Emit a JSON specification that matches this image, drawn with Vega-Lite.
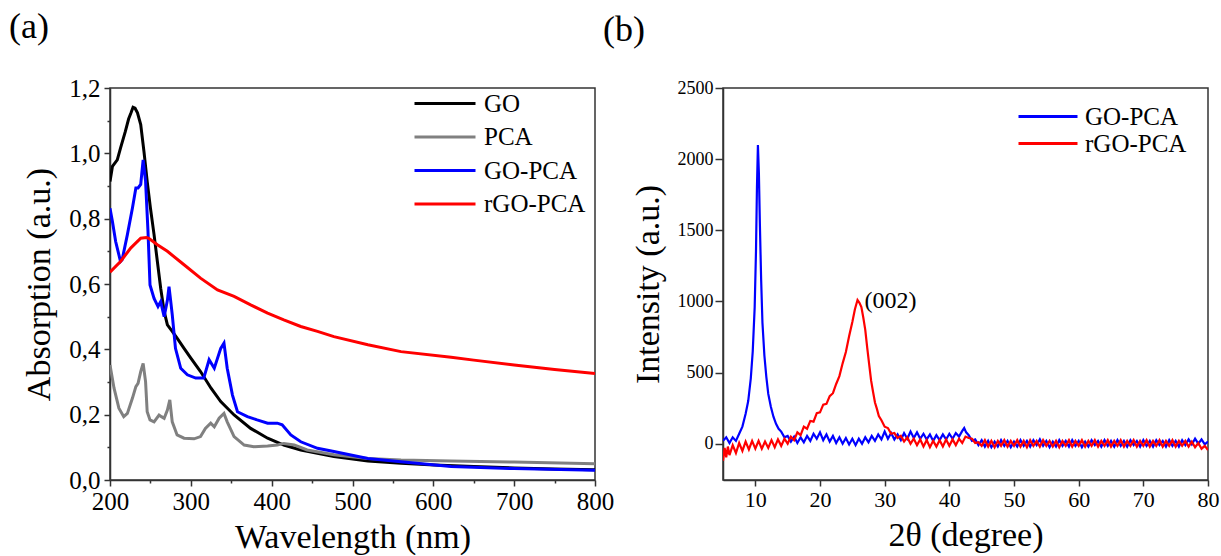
{
  "$schema": "https://vega.github.io/schema/vega-lite/v6.json",
  "padding": {"left": 8, "top": 8, "right": 0, "bottom": 0},
  "background": "white",
  "bounds": "flush",
  "spacing": 128,
  "resolve": {"scale": {"color": "independent"}, "legend": {"color": "independent"}},
  "config": {
    "font": "Liberation Serif, serif",
    "view": {"stroke": "#333", "strokeWidth": 1.5},
    "axis": {"grid": false, "domainColor": "#333", "domainWidth": 1.5, "tickColor": "#333", "tickWidth": 1.5, "labelColor": "black", "titleColor": "black", "labelFont": "Liberation Serif, serif", "titleFont": "Liberation Serif, serif", "titleFontWeight": "normal", "labelFlush": false, "labelOverlap": false, "labelBound": false},
    "legend": {"labelFont": "Liberation Serif", "labelColor": "black", "padding": 0, "symbolType": "stroke"}
  },
  "datasets": {
    "uv": [
      {"wl": 200, "abs": 0.914, "s": "GO"}, {"wl": 203, "abs": 0.96, "s": "GO"}, {"wl": 209, "abs": 0.98, "s": "GO"}, {"wl": 213, "abs": 1.016, "s": "GO"}, {"wl": 219, "abs": 1.067, "s": "GO"}, {"wl": 223, "abs": 1.105, "s": "GO"}, {"wl": 226, "abs": 1.124, "s": "GO"}, {"wl": 228.5, "abs": 1.141, "s": "GO"}, {"wl": 231, "abs": 1.138, "s": "GO"}, {"wl": 234, "abs": 1.124, "s": "GO"}, {"wl": 238, "abs": 1.088, "s": "GO"}, {"wl": 242, "abs": 1.006, "s": "GO"}, {"wl": 246, "abs": 0.914, "s": "GO"}, {"wl": 250, "abs": 0.833, "s": "GO"}, {"wl": 254.5, "abs": 0.751, "s": "GO"}, {"wl": 258.6, "abs": 0.669, "s": "GO"}, {"wl": 262.7, "abs": 0.587, "s": "GO"}, {"wl": 267, "abs": 0.516, "s": "GO"}, {"wl": 271, "abs": 0.475, "s": "GO"}, {"wl": 277, "abs": 0.455, "s": "GO"}, {"wl": 283, "abs": 0.434, "s": "GO"}, {"wl": 291.6, "abs": 0.403, "s": "GO"}, {"wl": 300, "abs": 0.373, "s": "GO"}, {"wl": 312, "abs": 0.332, "s": "GO"}, {"wl": 325, "abs": 0.281, "s": "GO"}, {"wl": 337, "abs": 0.24, "s": "GO"}, {"wl": 353.5, "abs": 0.199, "s": "GO"}, {"wl": 374, "abs": 0.158, "s": "GO"}, {"wl": 395, "abs": 0.128, "s": "GO"}, {"wl": 415, "abs": 0.107, "s": "GO"}, {"wl": 436, "abs": 0.092, "s": "GO"}, {"wl": 477, "abs": 0.072, "s": "GO"}, {"wl": 519, "abs": 0.058, "s": "GO"}, {"wl": 560, "abs": 0.051, "s": "GO"}, {"wl": 601, "abs": 0.046, "s": "GO"}, {"wl": 650, "abs": 0.041, "s": "GO"}, {"wl": 700, "abs": 0.037, "s": "GO"}, {"wl": 750, "abs": 0.034, "s": "GO"}, {"wl": 800, "abs": 0.031, "s": "GO"},
      {"wl": 200, "abs": 0.352, "s": "PCA"}, {"wl": 205, "abs": 0.281, "s": "PCA"}, {"wl": 211, "abs": 0.22, "s": "PCA"}, {"wl": 217, "abs": 0.194, "s": "PCA"}, {"wl": 221.5, "abs": 0.204, "s": "PCA"}, {"wl": 227.7, "abs": 0.25, "s": "PCA"}, {"wl": 232, "abs": 0.286, "s": "PCA"}, {"wl": 234.7, "abs": 0.296, "s": "PCA"}, {"wl": 238, "abs": 0.332, "s": "PCA"}, {"wl": 241, "abs": 0.357, "s": "PCA"}, {"wl": 244, "abs": 0.301, "s": "PCA"}, {"wl": 246, "abs": 0.209, "s": "PCA"}, {"wl": 249.5, "abs": 0.184, "s": "PCA"}, {"wl": 254.5, "abs": 0.178, "s": "PCA"}, {"wl": 260.7, "abs": 0.199, "s": "PCA"}, {"wl": 263.6, "abs": 0.194, "s": "PCA"}, {"wl": 267, "abs": 0.189, "s": "PCA"}, {"wl": 271, "abs": 0.214, "s": "PCA"}, {"wl": 274, "abs": 0.245, "s": "PCA"}, {"wl": 277, "abs": 0.178, "s": "PCA"}, {"wl": 283, "abs": 0.138, "s": "PCA"}, {"wl": 291.6, "abs": 0.128, "s": "PCA"}, {"wl": 304, "abs": 0.126, "s": "PCA"}, {"wl": 312, "abs": 0.133, "s": "PCA"}, {"wl": 318, "abs": 0.158, "s": "PCA"}, {"wl": 324.6, "abs": 0.174, "s": "PCA"}, {"wl": 329, "abs": 0.163, "s": "PCA"}, {"wl": 335, "abs": 0.189, "s": "PCA"}, {"wl": 341, "abs": 0.204, "s": "PCA"}, {"wl": 345, "abs": 0.178, "s": "PCA"}, {"wl": 353.5, "abs": 0.133, "s": "PCA"}, {"wl": 366, "abs": 0.107, "s": "PCA"}, {"wl": 378, "abs": 0.102, "s": "PCA"}, {"wl": 395, "abs": 0.104, "s": "PCA"}, {"wl": 407, "abs": 0.107, "s": "PCA"}, {"wl": 415, "abs": 0.112, "s": "PCA"}, {"wl": 428, "abs": 0.107, "s": "PCA"}, {"wl": 444, "abs": 0.092, "s": "PCA"}, {"wl": 477, "abs": 0.077, "s": "PCA"}, {"wl": 519, "abs": 0.066, "s": "PCA"}, {"wl": 560, "abs": 0.061, "s": "PCA"}, {"wl": 622, "abs": 0.058, "s": "PCA"}, {"wl": 700, "abs": 0.055, "s": "PCA"}, {"wl": 800, "abs": 0.05, "s": "PCA"},
      {"wl": 200, "abs": 0.832, "s": "GO-PCA"}, {"wl": 203, "abs": 0.791, "s": "GO-PCA"}, {"wl": 207, "abs": 0.73, "s": "GO-PCA"}, {"wl": 213, "abs": 0.669, "s": "GO-PCA"}, {"wl": 215, "abs": 0.674, "s": "GO-PCA"}, {"wl": 221.5, "abs": 0.751, "s": "GO-PCA"}, {"wl": 227.7, "abs": 0.832, "s": "GO-PCA"}, {"wl": 232, "abs": 0.894, "s": "GO-PCA"}, {"wl": 234.7, "abs": 0.894, "s": "GO-PCA"}, {"wl": 238, "abs": 0.905, "s": "GO-PCA"}, {"wl": 241, "abs": 0.98, "s": "GO-PCA"}, {"wl": 244, "abs": 0.915, "s": "GO-PCA"}, {"wl": 247, "abs": 0.761, "s": "GO-PCA"}, {"wl": 249.5, "abs": 0.597, "s": "GO-PCA"}, {"wl": 254.5, "abs": 0.556, "s": "GO-PCA"}, {"wl": 259.4, "abs": 0.531, "s": "GO-PCA"}, {"wl": 262.7, "abs": 0.546, "s": "GO-PCA"}, {"wl": 267, "abs": 0.5, "s": "GO-PCA"}, {"wl": 271, "abs": 0.55, "s": "GO-PCA"}, {"wl": 273, "abs": 0.592, "s": "GO-PCA"}, {"wl": 275, "abs": 0.55, "s": "GO-PCA"}, {"wl": 277, "abs": 0.506, "s": "GO-PCA"}, {"wl": 281, "abs": 0.403, "s": "GO-PCA"}, {"wl": 287.5, "abs": 0.342, "s": "GO-PCA"}, {"wl": 295.7, "abs": 0.322, "s": "GO-PCA"}, {"wl": 306, "abs": 0.312, "s": "GO-PCA"}, {"wl": 316, "abs": 0.312, "s": "GO-PCA"}, {"wl": 322.6, "abs": 0.368, "s": "GO-PCA"}, {"wl": 329, "abs": 0.342, "s": "GO-PCA"}, {"wl": 337, "abs": 0.403, "s": "GO-PCA"}, {"wl": 341, "abs": 0.419, "s": "GO-PCA"}, {"wl": 345, "abs": 0.342, "s": "GO-PCA"}, {"wl": 351.5, "abs": 0.26, "s": "GO-PCA"}, {"wl": 357.7, "abs": 0.209, "s": "GO-PCA"}, {"wl": 370, "abs": 0.194, "s": "GO-PCA"}, {"wl": 382, "abs": 0.184, "s": "GO-PCA"}, {"wl": 395, "abs": 0.174, "s": "GO-PCA"}, {"wl": 407, "abs": 0.174, "s": "GO-PCA"}, {"wl": 413, "abs": 0.169, "s": "GO-PCA"}, {"wl": 423.7, "abs": 0.138, "s": "GO-PCA"}, {"wl": 436, "abs": 0.117, "s": "GO-PCA"}, {"wl": 456.7, "abs": 0.097, "s": "GO-PCA"}, {"wl": 477, "abs": 0.087, "s": "GO-PCA"}, {"wl": 519, "abs": 0.066, "s": "GO-PCA"}, {"wl": 560, "abs": 0.056, "s": "GO-PCA"}, {"wl": 622, "abs": 0.041, "s": "GO-PCA"}, {"wl": 700, "abs": 0.035, "s": "GO-PCA"}, {"wl": 800, "abs": 0.03, "s": "GO-PCA"},
      {"wl": 200, "abs": 0.636, "s": "rGO-PCA"}, {"wl": 213, "abs": 0.669, "s": "rGO-PCA"}, {"wl": 225.6, "abs": 0.71, "s": "rGO-PCA"}, {"wl": 238, "abs": 0.74, "s": "rGO-PCA"}, {"wl": 245, "abs": 0.742, "s": "rGO-PCA"}, {"wl": 248, "abs": 0.74, "s": "rGO-PCA"}, {"wl": 258.6, "abs": 0.72, "s": "rGO-PCA"}, {"wl": 271, "abs": 0.7, "s": "rGO-PCA"}, {"wl": 291.6, "abs": 0.659, "s": "rGO-PCA"}, {"wl": 312, "abs": 0.618, "s": "rGO-PCA"}, {"wl": 333, "abs": 0.582, "s": "rGO-PCA"}, {"wl": 353.5, "abs": 0.562, "s": "rGO-PCA"}, {"wl": 374, "abs": 0.536, "s": "rGO-PCA"}, {"wl": 395, "abs": 0.511, "s": "rGO-PCA"}, {"wl": 415, "abs": 0.49, "s": "rGO-PCA"}, {"wl": 436, "abs": 0.47, "s": "rGO-PCA"}, {"wl": 456.7, "abs": 0.455, "s": "rGO-PCA"}, {"wl": 477, "abs": 0.439, "s": "rGO-PCA"}, {"wl": 519, "abs": 0.414, "s": "rGO-PCA"}, {"wl": 560, "abs": 0.393, "s": "rGO-PCA"}, {"wl": 622, "abs": 0.376, "s": "rGO-PCA"}, {"wl": 650, "abs": 0.367, "s": "rGO-PCA"}, {"wl": 700, "abs": 0.352, "s": "rGO-PCA"}, {"wl": 750, "abs": 0.338, "s": "rGO-PCA"}, {"wl": 800, "abs": 0.326, "s": "rGO-PCA"}
    ],
    "xrd": [
      {"t": 5, "i": 20, "s": "GO-PCA"}, {"t": 5.5, "i": 45, "s": "GO-PCA"}, {"t": 6, "i": 5, "s": "GO-PCA"}, {"t": 6.5, "i": 45, "s": "GO-PCA"}, {"t": 7, "i": 20, "s": "GO-PCA"}, {"t": 7.5, "i": 70, "s": "GO-PCA"}, {"t": 8, "i": 120, "s": "GO-PCA"}, {"t": 8.5, "i": 210, "s": "GO-PCA"}, {"t": 8.9, "i": 300, "s": "GO-PCA"}, {"t": 9.3, "i": 460, "s": "GO-PCA"}, {"t": 9.6, "i": 650, "s": "GO-PCA"}, {"t": 9.9, "i": 960, "s": "GO-PCA"}, {"t": 10.1, "i": 1350, "s": "GO-PCA"}, {"t": 10.25, "i": 1800, "s": "GO-PCA"}, {"t": 10.4, "i": 2100, "s": "GO-PCA"}, {"t": 10.55, "i": 1900, "s": "GO-PCA"}, {"t": 10.7, "i": 1550, "s": "GO-PCA"}, {"t": 10.9, "i": 1150, "s": "GO-PCA"}, {"t": 11.1, "i": 850, "s": "GO-PCA"}, {"t": 11.4, "i": 620, "s": "GO-PCA"}, {"t": 11.7, "i": 470, "s": "GO-PCA"}, {"t": 12, "i": 350, "s": "GO-PCA"}, {"t": 12.4, "i": 260, "s": "GO-PCA"}, {"t": 12.8, "i": 190, "s": "GO-PCA"}, {"t": 13.2, "i": 140, "s": "GO-PCA"}, {"t": 13.6, "i": 105, "s": "GO-PCA"}, {"t": 14, "i": 85, "s": "GO-PCA"}, {"t": 14.5, "i": 45, "s": "GO-PCA"}, {"t": 15, "i": 55, "s": "GO-PCA"}, {"t": 15.5, "i": 15, "s": "GO-PCA"}, {"t": 16, "i": 50, "s": "GO-PCA"}, {"t": 16.5, "i": 5, "s": "GO-PCA"}, {"t": 17, "i": 45, "s": "GO-PCA"}, {"t": 17.5, "i": 10, "s": "GO-PCA"}, {"t": 18, "i": 55, "s": "GO-PCA"}, {"t": 18.5, "i": 20, "s": "GO-PCA"}, {"t": 19, "i": 70, "s": "GO-PCA"}, {"t": 19.5, "i": 35, "s": "GO-PCA"}, {"t": 20, "i": 80, "s": "GO-PCA"}, {"t": 20.5, "i": 25, "s": "GO-PCA"}, {"t": 21, "i": 65, "s": "GO-PCA"}, {"t": 21.5, "i": 15, "s": "GO-PCA"}, {"t": 22, "i": 55, "s": "GO-PCA"}, {"t": 22.5, "i": 5, "s": "GO-PCA"}, {"t": 23, "i": 45, "s": "GO-PCA"}, {"t": 23.5, "i": 0, "s": "GO-PCA"}, {"t": 24, "i": 40, "s": "GO-PCA"}, {"t": 24.5, "i": -5, "s": "GO-PCA"}, {"t": 25, "i": 35, "s": "GO-PCA"}, {"t": 25.5, "i": -10, "s": "GO-PCA"}, {"t": 26, "i": 35, "s": "GO-PCA"}, {"t": 26.5, "i": 0, "s": "GO-PCA"}, {"t": 27, "i": 45, "s": "GO-PCA"}, {"t": 27.5, "i": 10, "s": "GO-PCA"}, {"t": 28, "i": 55, "s": "GO-PCA"}, {"t": 28.5, "i": 20, "s": "GO-PCA"}, {"t": 29, "i": 65, "s": "GO-PCA"}, {"t": 29.5, "i": 30, "s": "GO-PCA"}, {"t": 30, "i": 85, "s": "GO-PCA"}, {"t": 30.5, "i": 35, "s": "GO-PCA"}, {"t": 31, "i": 75, "s": "GO-PCA"}, {"t": 31.5, "i": 30, "s": "GO-PCA"}, {"t": 32, "i": 65, "s": "GO-PCA"}, {"t": 32.5, "i": 25, "s": "GO-PCA"}, {"t": 33, "i": 75, "s": "GO-PCA"}, {"t": 33.5, "i": 35, "s": "GO-PCA"}, {"t": 34, "i": 85, "s": "GO-PCA"}, {"t": 34.5, "i": 40, "s": "GO-PCA"}, {"t": 35, "i": 80, "s": "GO-PCA"}, {"t": 35.5, "i": 35, "s": "GO-PCA"}, {"t": 36, "i": 70, "s": "GO-PCA"}, {"t": 36.5, "i": 30, "s": "GO-PCA"}, {"t": 37, "i": 65, "s": "GO-PCA"}, {"t": 37.5, "i": 20, "s": "GO-PCA"}, {"t": 38, "i": 60, "s": "GO-PCA"}, {"t": 38.5, "i": 25, "s": "GO-PCA"}, {"t": 39, "i": 65, "s": "GO-PCA"}, {"t": 39.5, "i": 30, "s": "GO-PCA"}, {"t": 40, "i": 70, "s": "GO-PCA"}, {"t": 40.5, "i": 35, "s": "GO-PCA"}, {"t": 41, "i": 75, "s": "GO-PCA"}, {"t": 41.5, "i": 50, "s": "GO-PCA"}, {"t": 42, "i": 90, "s": "GO-PCA"}, {"t": 42.3, "i": 110, "s": "GO-PCA"}, {"t": 42.6, "i": 80, "s": "GO-PCA"}, {"t": 43, "i": 60, "s": "GO-PCA"}, {"t": 43.5, "i": 20, "s": "GO-PCA"}, {"t": 44, "i": 30, "s": "GO-PCA"}, {"t": 44.5, "i": -10, "s": "GO-PCA"}, {"t": 45, "i": 25, "s": "GO-PCA"}, {"t": 45.5, "i": -20, "s": "GO-PCA"}, {"t": 46, "i": 20, "s": "GO-PCA"}, {"t": 46.5, "i": -25, "s": "GO-PCA"}, {"t": 47, "i": 15, "s": "GO-PCA"}, {"t": 47.5, "i": -20, "s": "GO-PCA"}, {"t": 48, "i": 25, "s": "GO-PCA"}, {"t": 48.5, "i": -15, "s": "GO-PCA"}, {"t": 49, "i": 20, "s": "GO-PCA"}, {"t": 49.5, "i": -25, "s": "GO-PCA"}, {"t": 50, "i": 15, "s": "GO-PCA"}, {"t": 50.5, "i": -20, "s": "GO-PCA"}, {"t": 51, "i": 25, "s": "GO-PCA"}, {"t": 51.5, "i": -15, "s": "GO-PCA"}, {"t": 52, "i": 20, "s": "GO-PCA"}, {"t": 52.5, "i": -20, "s": "GO-PCA"}, {"t": 53, "i": 25, "s": "GO-PCA"}, {"t": 53.5, "i": -10, "s": "GO-PCA"}, {"t": 54, "i": 30, "s": "GO-PCA"}, {"t": 54.5, "i": -15, "s": "GO-PCA"}, {"t": 55, "i": 20, "s": "GO-PCA"}, {"t": 55.5, "i": -25, "s": "GO-PCA"}, {"t": 56, "i": 15, "s": "GO-PCA"}, {"t": 56.5, "i": -20, "s": "GO-PCA"}, {"t": 57, "i": 25, "s": "GO-PCA"}, {"t": 57.5, "i": -15, "s": "GO-PCA"}, {"t": 58, "i": 20, "s": "GO-PCA"}, {"t": 58.5, "i": -20, "s": "GO-PCA"}, {"t": 59, "i": 25, "s": "GO-PCA"}, {"t": 59.5, "i": -15, "s": "GO-PCA"}, {"t": 60, "i": 20, "s": "GO-PCA"}, {"t": 60.5, "i": -25, "s": "GO-PCA"}, {"t": 61, "i": 15, "s": "GO-PCA"}, {"t": 61.5, "i": -20, "s": "GO-PCA"}, {"t": 62, "i": 25, "s": "GO-PCA"}, {"t": 62.5, "i": -10, "s": "GO-PCA"}, {"t": 63, "i": 20, "s": "GO-PCA"}, {"t": 63.5, "i": -20, "s": "GO-PCA"}, {"t": 64, "i": 25, "s": "GO-PCA"}, {"t": 64.5, "i": -15, "s": "GO-PCA"}, {"t": 65, "i": 20, "s": "GO-PCA"}, {"t": 65.5, "i": -20, "s": "GO-PCA"}, {"t": 66, "i": 25, "s": "GO-PCA"}, {"t": 66.5, "i": -15, "s": "GO-PCA"}, {"t": 67, "i": 20, "s": "GO-PCA"}, {"t": 67.5, "i": -20, "s": "GO-PCA"}, {"t": 68, "i": 25, "s": "GO-PCA"}, {"t": 68.5, "i": -10, "s": "GO-PCA"}, {"t": 69, "i": 20, "s": "GO-PCA"}, {"t": 69.5, "i": -20, "s": "GO-PCA"}, {"t": 70, "i": 25, "s": "GO-PCA"}, {"t": 70.5, "i": -15, "s": "GO-PCA"}, {"t": 71, "i": 20, "s": "GO-PCA"}, {"t": 71.5, "i": -20, "s": "GO-PCA"}, {"t": 72, "i": 25, "s": "GO-PCA"}, {"t": 72.5, "i": -10, "s": "GO-PCA"}, {"t": 73, "i": 20, "s": "GO-PCA"}, {"t": 73.5, "i": -20, "s": "GO-PCA"}, {"t": 74, "i": 25, "s": "GO-PCA"}, {"t": 74.5, "i": -15, "s": "GO-PCA"}, {"t": 75, "i": 20, "s": "GO-PCA"}, {"t": 75.5, "i": -20, "s": "GO-PCA"}, {"t": 76, "i": 25, "s": "GO-PCA"}, {"t": 76.5, "i": -10, "s": "GO-PCA"}, {"t": 77, "i": 30, "s": "GO-PCA"}, {"t": 77.5, "i": -5, "s": "GO-PCA"}, {"t": 78, "i": 35, "s": "GO-PCA"}, {"t": 78.5, "i": 0, "s": "GO-PCA"}, {"t": 79, "i": 30, "s": "GO-PCA"}, {"t": 79.5, "i": -5, "s": "GO-PCA"}, {"t": 80, "i": 15, "s": "GO-PCA"},
      {"t": 5, "i": -120, "s": "rGO-PCA"}, {"t": 5.25, "i": -30, "s": "rGO-PCA"}, {"t": 5.5, "i": -95, "s": "rGO-PCA"}, {"t": 5.75, "i": -20, "s": "rGO-PCA"}, {"t": 6, "i": -80, "s": "rGO-PCA"}, {"t": 6.5, "i": -10, "s": "rGO-PCA"}, {"t": 7, "i": -65, "s": "rGO-PCA"}, {"t": 7.5, "i": 5, "s": "rGO-PCA"}, {"t": 8, "i": -50, "s": "rGO-PCA"}, {"t": 8.5, "i": 15, "s": "rGO-PCA"}, {"t": 9, "i": -40, "s": "rGO-PCA"}, {"t": 9.5, "i": 20, "s": "rGO-PCA"}, {"t": 10, "i": -35, "s": "rGO-PCA"}, {"t": 10.5, "i": 20, "s": "rGO-PCA"}, {"t": 11, "i": -35, "s": "rGO-PCA"}, {"t": 11.5, "i": 15, "s": "rGO-PCA"}, {"t": 12, "i": -30, "s": "rGO-PCA"}, {"t": 12.5, "i": 25, "s": "rGO-PCA"}, {"t": 13, "i": -25, "s": "rGO-PCA"}, {"t": 13.5, "i": 30, "s": "rGO-PCA"}, {"t": 14, "i": -15, "s": "rGO-PCA"}, {"t": 14.5, "i": 35, "s": "rGO-PCA"}, {"t": 15, "i": 0, "s": "rGO-PCA"}, {"t": 15.5, "i": 50, "s": "rGO-PCA"}, {"t": 16, "i": 25, "s": "rGO-PCA"}, {"t": 16.5, "i": 80, "s": "rGO-PCA"}, {"t": 17, "i": 60, "s": "rGO-PCA"}, {"t": 17.5, "i": 120, "s": "rGO-PCA"}, {"t": 18, "i": 105, "s": "rGO-PCA"}, {"t": 18.5, "i": 160, "s": "rGO-PCA"}, {"t": 19, "i": 155, "s": "rGO-PCA"}, {"t": 19.5, "i": 215, "s": "rGO-PCA"}, {"t": 20, "i": 220, "s": "rGO-PCA"}, {"t": 20.5, "i": 275, "s": "rGO-PCA"}, {"t": 21, "i": 280, "s": "rGO-PCA"}, {"t": 21.5, "i": 335, "s": "rGO-PCA"}, {"t": 22, "i": 355, "s": "rGO-PCA"}, {"t": 22.5, "i": 420, "s": "rGO-PCA"}, {"t": 23, "i": 475, "s": "rGO-PCA"}, {"t": 23.5, "i": 565, "s": "rGO-PCA"}, {"t": 24, "i": 645, "s": "rGO-PCA"}, {"t": 24.5, "i": 755, "s": "rGO-PCA"}, {"t": 25, "i": 855, "s": "rGO-PCA"}, {"t": 25.4, "i": 945, "s": "rGO-PCA"}, {"t": 25.8, "i": 1010, "s": "rGO-PCA"}, {"t": 26.1, "i": 990, "s": "rGO-PCA"}, {"t": 26.4, "i": 960, "s": "rGO-PCA"}, {"t": 26.7, "i": 885, "s": "rGO-PCA"}, {"t": 27, "i": 800, "s": "rGO-PCA"}, {"t": 27.3, "i": 675, "s": "rGO-PCA"}, {"t": 27.6, "i": 560, "s": "rGO-PCA"}, {"t": 27.9, "i": 445, "s": "rGO-PCA"}, {"t": 28.2, "i": 365, "s": "rGO-PCA"}, {"t": 28.5, "i": 290, "s": "rGO-PCA"}, {"t": 28.8, "i": 245, "s": "rGO-PCA"}, {"t": 29.1, "i": 195, "s": "rGO-PCA"}, {"t": 29.5, "i": 165, "s": "rGO-PCA"}, {"t": 30, "i": 120, "s": "rGO-PCA"}, {"t": 30.5, "i": 110, "s": "rGO-PCA"}, {"t": 31, "i": 70, "s": "rGO-PCA"}, {"t": 31.5, "i": 75, "s": "rGO-PCA"}, {"t": 32, "i": 40, "s": "rGO-PCA"}, {"t": 32.5, "i": 55, "s": "rGO-PCA"}, {"t": 33, "i": 15, "s": "rGO-PCA"}, {"t": 33.5, "i": 45, "s": "rGO-PCA"}, {"t": 34, "i": 0, "s": "rGO-PCA"}, {"t": 34.5, "i": 35, "s": "rGO-PCA"}, {"t": 35, "i": -10, "s": "rGO-PCA"}, {"t": 35.5, "i": 30, "s": "rGO-PCA"}, {"t": 36, "i": -20, "s": "rGO-PCA"}, {"t": 36.5, "i": 25, "s": "rGO-PCA"}, {"t": 37, "i": -25, "s": "rGO-PCA"}, {"t": 37.5, "i": 20, "s": "rGO-PCA"}, {"t": 38, "i": -20, "s": "rGO-PCA"}, {"t": 38.5, "i": 25, "s": "rGO-PCA"}, {"t": 39, "i": -20, "s": "rGO-PCA"}, {"t": 39.5, "i": 30, "s": "rGO-PCA"}, {"t": 40, "i": -15, "s": "rGO-PCA"}, {"t": 40.5, "i": 30, "s": "rGO-PCA"}, {"t": 41, "i": -10, "s": "rGO-PCA"}, {"t": 41.5, "i": 35, "s": "rGO-PCA"}, {"t": 42, "i": 5, "s": "rGO-PCA"}, {"t": 42.5, "i": 50, "s": "rGO-PCA"}, {"t": 43, "i": 40, "s": "rGO-PCA"}, {"t": 43.5, "i": 35, "s": "rGO-PCA"}, {"t": 44, "i": 5, "s": "rGO-PCA"}, {"t": 44.5, "i": 10, "s": "rGO-PCA"}, {"t": 45, "i": -15, "s": "rGO-PCA"}, {"t": 45.5, "i": 25, "s": "rGO-PCA"}, {"t": 46, "i": -20, "s": "rGO-PCA"}, {"t": 46.5, "i": 20, "s": "rGO-PCA"}, {"t": 47, "i": -25, "s": "rGO-PCA"}, {"t": 47.5, "i": 20, "s": "rGO-PCA"}, {"t": 48, "i": -15, "s": "rGO-PCA"}, {"t": 48.5, "i": 25, "s": "rGO-PCA"}, {"t": 49, "i": -20, "s": "rGO-PCA"}, {"t": 49.5, "i": 20, "s": "rGO-PCA"}, {"t": 50, "i": -15, "s": "rGO-PCA"}, {"t": 50.5, "i": 25, "s": "rGO-PCA"}, {"t": 51, "i": -20, "s": "rGO-PCA"}, {"t": 51.5, "i": 20, "s": "rGO-PCA"}, {"t": 52, "i": -25, "s": "rGO-PCA"}, {"t": 52.5, "i": 25, "s": "rGO-PCA"}, {"t": 53, "i": -15, "s": "rGO-PCA"}, {"t": 53.5, "i": 20, "s": "rGO-PCA"}, {"t": 54, "i": -20, "s": "rGO-PCA"}, {"t": 54.5, "i": 25, "s": "rGO-PCA"}, {"t": 55, "i": -15, "s": "rGO-PCA"}, {"t": 55.5, "i": 20, "s": "rGO-PCA"}, {"t": 56, "i": -20, "s": "rGO-PCA"}, {"t": 56.5, "i": 20, "s": "rGO-PCA"}, {"t": 57, "i": -25, "s": "rGO-PCA"}, {"t": 57.5, "i": 20, "s": "rGO-PCA"}, {"t": 58, "i": -15, "s": "rGO-PCA"}, {"t": 58.5, "i": 25, "s": "rGO-PCA"}, {"t": 59, "i": -20, "s": "rGO-PCA"}, {"t": 59.5, "i": 20, "s": "rGO-PCA"}, {"t": 60, "i": -15, "s": "rGO-PCA"}, {"t": 60.5, "i": 25, "s": "rGO-PCA"}, {"t": 61, "i": -20, "s": "rGO-PCA"}, {"t": 61.5, "i": 20, "s": "rGO-PCA"}, {"t": 62, "i": -15, "s": "rGO-PCA"}, {"t": 62.5, "i": 25, "s": "rGO-PCA"}, {"t": 63, "i": -20, "s": "rGO-PCA"}, {"t": 63.5, "i": 20, "s": "rGO-PCA"}, {"t": 64, "i": -15, "s": "rGO-PCA"}, {"t": 64.5, "i": 25, "s": "rGO-PCA"}, {"t": 65, "i": -20, "s": "rGO-PCA"}, {"t": 65.5, "i": 20, "s": "rGO-PCA"}, {"t": 66, "i": -15, "s": "rGO-PCA"}, {"t": 66.5, "i": 25, "s": "rGO-PCA"}, {"t": 67, "i": -20, "s": "rGO-PCA"}, {"t": 67.5, "i": 20, "s": "rGO-PCA"}, {"t": 68, "i": -15, "s": "rGO-PCA"}, {"t": 68.5, "i": 25, "s": "rGO-PCA"}, {"t": 69, "i": -20, "s": "rGO-PCA"}, {"t": 69.5, "i": 20, "s": "rGO-PCA"}, {"t": 70, "i": -15, "s": "rGO-PCA"}, {"t": 70.5, "i": 25, "s": "rGO-PCA"}, {"t": 71, "i": -20, "s": "rGO-PCA"}, {"t": 71.5, "i": 20, "s": "rGO-PCA"}, {"t": 72, "i": -15, "s": "rGO-PCA"}, {"t": 72.5, "i": 25, "s": "rGO-PCA"}, {"t": 73, "i": -20, "s": "rGO-PCA"}, {"t": 73.5, "i": 20, "s": "rGO-PCA"}, {"t": 74, "i": -15, "s": "rGO-PCA"}, {"t": 74.5, "i": 25, "s": "rGO-PCA"}, {"t": 75, "i": -20, "s": "rGO-PCA"}, {"t": 75.5, "i": 20, "s": "rGO-PCA"}, {"t": 76, "i": -15, "s": "rGO-PCA"}, {"t": 76.5, "i": 20, "s": "rGO-PCA"}, {"t": 77, "i": -20, "s": "rGO-PCA"}, {"t": 77.5, "i": 15, "s": "rGO-PCA"}, {"t": 78, "i": -25, "s": "rGO-PCA"}, {"t": 78.5, "i": 5, "s": "rGO-PCA"}, {"t": 79, "i": -35, "s": "rGO-PCA"}, {"t": 79.5, "i": -15, "s": "rGO-PCA"}, {"t": 80, "i": -45, "s": "rGO-PCA"}
    ],
    "ann": [{"t": 26.9, "i": 1000, "label": "(002)"}]
  },
  "hconcat": [
    {
      "width": 485,
      "height": 392,
      "title": {"text": "(a)", "anchor": "start", "frame": "group", "dx": -101, "fontSize": 36, "fontWeight": "normal", "font": "Liberation Serif", "baseline": "alphabetic", "offset": 2, "color": "black"},
      "data": {"name": "uv"},
      "mark": {"type": "line", "strokeWidth": 3, "clip": true},
      "encoding": {
        "x": {"field": "wl", "type": "quantitative", "scale": {"domain": [200, 800], "nice": false, "zero": false},
          "axis": {"title": "Wavelength (nm)", "titleFont": "Liberation Serif, serif", "labelFont": "Liberation Serif, serif", "titleFontWeight": "normal", "titleFontSize": 34, "labelFontSize": 25, "labelPadding": 3, "titlePadding": 6,
            "values": [200, 250, 300, 350, 400, 450, 500, 550, 600, 650, 700, 750, 800],
            "labelExpr": "datum.value % 100 === 0 ? datum.label : ''",
            "tickSize": {"condition": {"test": "datum.value % 100 === 0", "value": 6}, "value": 3}}},
        "y": {"field": "abs", "type": "quantitative", "scale": {"domain": [0, 1.2], "nice": false},
          "axis": {"title": "Absorption (a.u.)", "titleFont": "Liberation Serif, serif", "labelFont": "Liberation Serif, serif", "titleFontWeight": "normal", "titleFontSize": 34, "labelFontSize": 25, "labelPadding": 4, "titlePadding": 12,
            "values": [0, 0.1, 0.2, 0.3, 0.4, 0.5, 0.6, 0.7, 0.8, 0.9, 1.0, 1.1, 1.2],
            "labelExpr": "round(datum.value * 10) % 2 === 0 ? replace(format(datum.value, '.1f'), '.', ',') : ''",
            "tickSize": {"condition": {"test": "round(datum.value * 10) % 2 === 0", "value": 6}, "value": 3}}},
        "color": {"field": "s", "type": "nominal",
          "scale": {"domain": ["GO", "PCA", "GO-PCA", "rGO-PCA"], "range": ["#000000", "#808080", "#0000ff", "#ff0000"]},
          "legend": {"title": null, "orient": "none", "legendX": 303, "legendY": 3, "labelFontSize": 25, "symbolSize": 3721, "symbolStrokeWidth": 3, "labelOffset": 7, "rowPadding": 7.5, "clipHeight": 25}}
      }
    },
    {
      "width": 485,
      "height": 392,
      "title": {"text": "(b)", "anchor": "start", "frame": "group", "dx": -120, "fontSize": 36, "fontWeight": "normal", "font": "Liberation Serif", "baseline": "alphabetic", "offset": 2, "color": "black"},
      "layer": [
        {
          "data": {"name": "xrd"},
          "mark": {"type": "line", "strokeWidth": 2.2, "clip": true},
          "encoding": {
            "x": {"field": "t", "type": "quantitative", "scale": {"domain": [5, 80], "nice": false, "zero": false},
              "axis": {"title": "2θ (degree)", "titleFont": "Liberation Serif, serif", "labelFont": "Liberation Serif, serif", "titleFontWeight": "normal", "titleFontSize": 34, "labelFontSize": 22, "labelPadding": 3, "titlePadding": 8, "tickSize": 6,
                "values": [10, 20, 30, 40, 50, 60, 70, 80]}},
            "y": {"field": "i", "type": "quantitative", "scale": {"domain": [-255, 2500], "nice": false, "zero": false},
              "axis": {"title": "Intensity (a.u.)", "titleFont": "Liberation Serif, serif", "labelFont": "Liberation Serif, serif", "titleFontWeight": "normal", "titleFontSize": 34, "labelFontSize": 18, "labelPadding": 2, "titlePadding": 12, "tickSize": 8, "format": "d",
                "values": [0, 500, 1000, 1500, 2000, 2500]}},
            "color": {"field": "s", "type": "nominal",
              "scale": {"domain": ["GO-PCA", "rGO-PCA"], "range": ["#0000ff", "#ff0000"]},
              "legend": {"title": null, "orient": "none", "legendX": 294, "legendY": 16, "labelFontSize": 25, "symbolSize": 3481, "symbolStrokeWidth": 3, "labelOffset": 6, "rowPadding": 1, "clipHeight": 25}}
          }
        },
        {
          "data": {"name": "ann"},
          "mark": {"type": "text", "align": "left", "baseline": "middle", "fontSize": 24, "font": "Liberation Serif", "color": "black"},
          "encoding": {
            "x": {"field": "t", "type": "quantitative"},
            "y": {"field": "i", "type": "quantitative"},
            "text": {"field": "label"}
          }
        }
      ]
    }
  ]
}
